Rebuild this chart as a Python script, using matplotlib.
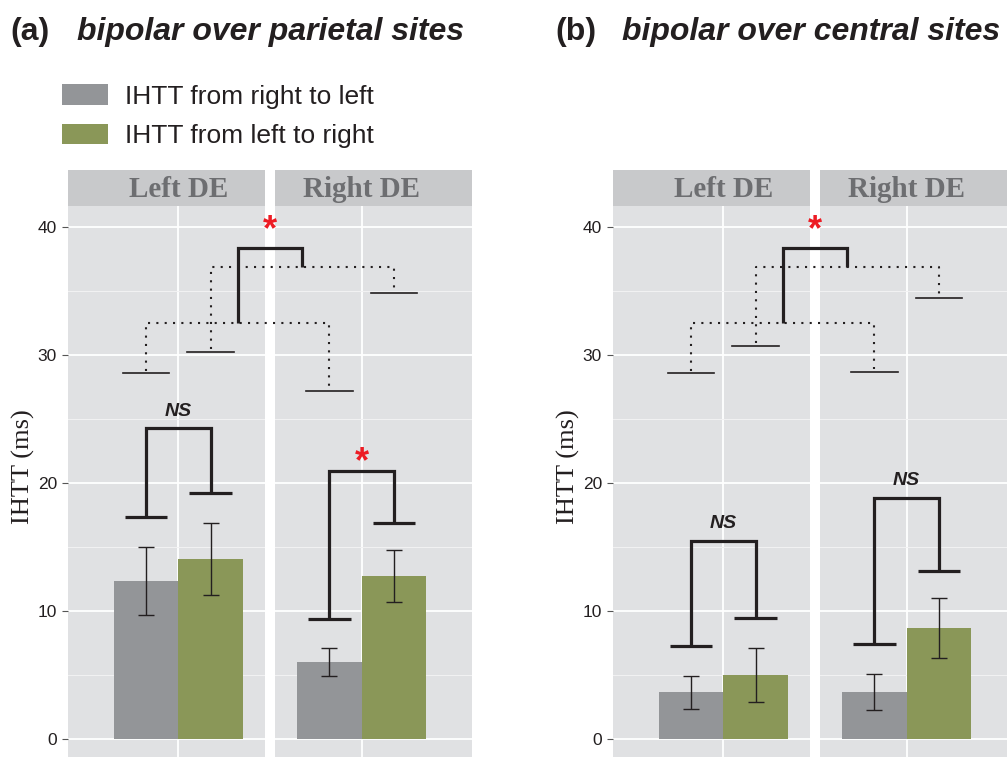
import matplotlib.pyplot as plt
from matplotlib.patches import Patch
import numpy as np

W, H = 1007, 758

facets = ['Left DE', 'Right DE']
series = ['IHTT from right to left', 'IHTT from left to right']
bar_colors = ['#939598', '#8a9758']

# bipolar over parietal sites (rows: facets, columns: series)
parietal_mean = [[12.37, 14.04], [5.99, 12.73]]
parietal_err = [[2.65, 2.8], [1.1, 2.0]]
parietal_base = [[17.37, 19.19], [9.35, 16.88]]
parietal_top = [24.27, 20.96]
parietal_sig = ['NS', '*']
parietal_thin = [[28.57, 30.23], [27.19, 34.82]]

# bipolar over central sites
central_mean = [[3.65, 5.0], [3.65, 8.65]]
central_err = [[1.3, 2.08], [1.4, 2.35]]
central_base = [[7.29, 9.43], [7.42, 13.15]]
central_top = [15.5, 18.85]
central_sig = ['NS', 'NS']
central_thin = [[28.57, 30.7], [28.67, 34.45]]

# between-facet comparison: dotted joins for each series, then the bracket
dotted_levels = [32.5, 36.85]
cross_top = 38.33
cross_sig = '*'

INK = '#231f20'
RED = '#ed1c24'
BG = '#e0e1e3'
STRIP = '#c8c9cb'
SANS = 'Liberation Sans'
SERIF = 'Liberation Serif'

xlims = [(-1.71, 1.34), (-1.34, 1.71)]
ylims = (-1.41, 41.64)
fw, gap, ptop, pbot, stop = 197, 10, 206, 757, 170

fig = plt.figure(figsize=(W / 100, H / 100), dpi=100)


def px_axes(x0, y0, w, h):
    return fig.add_axes([x0 / W, 1 - (y0 + h) / H, w / W, h / H])


def sig_text(ax, x, y, s):
    if s == '*':
        ax.text(x, y - 0.05, s, color=RED, fontsize=26, fontweight='bold',
                family=SANS, ha='center', va='center_baseline', clip_on=False)
    else:
        ax.text(x, y + 1.35, s, color=INK, fontsize=14, fontweight='bold',
                style='italic', family=SANS, ha='center', va='center',
                clip_on=False)


def draw_panel(x_left, letter, title, mean, err, base, top, sig, thin):
    fig.text((x_left - 58) / W, 1 - 40 / H, letter, family=SANS,
             fontweight='bold', fontsize=23, ha='left', va='baseline',
             color=INK)
    fig.text((x_left + 9) / W, 1 - 40 / H, title, family=SANS,
             fontweight='bold', style='italic', fontsize=23, ha='left',
             va='baseline', color=INK)
    fig.text((x_left - 45) / W, 1 - 467 / H, 'IHTT (ms)', family=SERIF,
             fontsize=19, rotation=90, ha='center', va='center', color=INK)

    axes = []
    for i, name in enumerate(facets):
        x0 = x_left + i * (fw + gap)
        ax = px_axes(x0, ptop, fw, pbot - ptop)
        ax.set_facecolor(BG)
        ax.set_xlim(xlims[i])
        ax.set_ylim(ylims)
        ax.set_yticks([0, 10, 20, 30, 40])
        ax.set_yticks([5, 15, 25, 35], minor=True)
        ax.set_xticks([0])
        ax.grid(True, which='major', color='white', lw=1.3)
        ax.grid(True, which='minor', axis='y', color='#f2f2f3', lw=0.7)
        ax.set_axisbelow(True)
        for sp in ax.spines.values():
            sp.set_visible(False)
        ax.tick_params(axis='x', length=0, labelbottom=False)
        ax.tick_params(axis='y', which='minor', length=0)
        if i == 0:
            ax.tick_params(axis='y', which='major', length=4, width=0.8,
                           color='#555555', pad=4, labelsize=12.5,
                           labelcolor=INK)
            for lab in ax.get_yticklabels():
                lab.set_family(SANS)
        else:
            ax.tick_params(axis='y', which='major', length=0, labelleft=False)

        xs = np.array([-0.5, 0.5])
        ax.bar(xs, mean[i], width=1.0, color=bar_colors, edgecolor='none')
        ax.errorbar(xs, mean[i], yerr=err[i], fmt='none', ecolor=INK,
                    elinewidth=1.0, capsize=6, capthick=1.0)

        strip = px_axes(x0, stop, fw, ptop - stop)
        strip.set_xlim(xlims[i])
        strip.set_ylim(0, 1)
        strip.axis('off')
        strip.add_patch(plt.Rectangle((xlims[i][0], 0), xlims[i][1] - xlims[i][0], 1,
                                      color=STRIP, lw=0))
        strip.text(0, 0.45, name, family=SERIF, fontweight='bold', fontsize=21,
                   color='#6d6e71', ha='center', va='center')
        axes.append(ax)

    ax1 = axes[0]
    ax1.set_zorder(3)
    scale = fw / (xlims[0][1] - xlims[0][0])
    offset = (fw + gap) / scale - xlims[1][0] + xlims[0][0]
    centers = [0.0, offset]

    thick = dict(color=INK, lw=2.3, solid_joinstyle='miter',
                 solid_capstyle='butt', clip_on=False)
    thin_kw = dict(color=INK, lw=1.2, clip_on=False)
    dot_kw = dict(color=INK, lw=1.5, ls=(0, (1, 3)), clip_on=False)

    for i, c in enumerate(centers):
        x_g, x_r = c - 0.5, c + 0.5
        # within-facet bracket with capped feet
        for x, b in zip((x_g, x_r), base[i]):
            ax1.plot([x - 0.33, x + 0.33], [b, b], **thick)
        ax1.plot([x_g, x_g, x_r, x_r], [base[i][0], top[i], top[i], base[i][1]],
                 **thick)
        sig_text(ax1, c, top[i] if sig[i] != '*' else top[i] + 0.95, sig[i])
        # upper thin caps
        for x, t in zip((x_g, x_r), thin[i]):
            ax1.plot([x - 0.36, x + 0.36], [t, t], **thin_kw)

    # dotted joins between facets for each series
    for k in range(2):
        xa = centers[0] - 0.5 + k
        xb = centers[1] - 0.5 + k
        lvl = dotted_levels[k]
        ax1.plot([xa, xa, xb, xb],
                 [thin[0][k] + 0.2, lvl, lvl, thin[1][k] + 0.2], **dot_kw)

    m_low = (centers[0] + centers[1]) / 2 - 0.5
    m_high = m_low + 1.0
    ax1.plot([m_low, m_low, m_high, m_high],
             [dotted_levels[0], cross_top, cross_top, dotted_levels[1]], **thick)
    sig_text(ax1, (m_low + m_high) / 2, cross_top + 1.77, cross_sig)


draw_panel(68, '(a)', 'bipolar over parietal sites', parietal_mean, parietal_err,
           parietal_base, parietal_top, parietal_sig, parietal_thin)
draw_panel(613, '(b)', 'bipolar over central sites', central_mean, central_err,
           central_base, central_top, central_sig, central_thin)

handles = [Patch(facecolor=c, edgecolor='none') for c in bar_colors]
fig.legend(handles, series, loc='upper left', bbox_to_anchor=(62 / W, 1 - 84 / H),
           frameon=False, prop={'family': SANS, 'size': 19}, labelcolor=INK,
           handlelength=1.74, handleheight=0.83, handletextpad=0.64,
           labelspacing=0.57, borderpad=0, borderaxespad=0)

fig.savefig('out.png', dpi=100)
